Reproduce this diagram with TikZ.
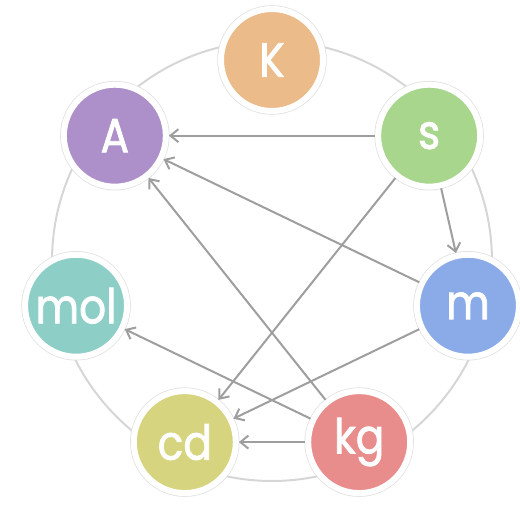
\documentclass[tikz,border=0pt]{standalone}
\usepackage{fontspec}
\setmainfont{Poppins}
\newfontfamily\unitfont[FakeBold=1.6,FakeStretch=0.88]{Poppins}
\usetikzlibrary{positioning,arrows.meta}
\definecolor{colK}{RGB}{235,187,138}
\definecolor{colS}{RGB}{168,214,140}
\definecolor{colM}{RGB}{138,171,232}
\definecolor{colKg}{RGB}{232,140,140}
\definecolor{colCd}{RGB}{214,212,126}
\definecolor{colMol}{RGB}{141,207,199}
\definecolor{colA}{RGB}{173,144,201}
\definecolor{ringgray}{RGB}{214,214,214}
\definecolor{arrowgray}{RGB}{158,158,158}
\tikzset{
    unit/.style={circle,minimum size=102pt,inner sep=0pt,draw=white,line width=6pt,
        preaction={draw=black!12,line width=7.5pt},
        text=white,font=\unitfont\fontsize{48}{52}\selectfont},
    conv/.style={draw=arrowgray,line width=2pt,-{Straight Barb[length=8pt,width=13pt]}}
}
\begin{document}
\begin{tikzpicture}[x=1pt,y=1pt]
    \useasboundingbox (0,-505) rectangle (520,0);
    \begin{scope}[shift={(272,-261)}]
        \draw [draw=ringgray,line width=2pt] (0,0) circle (220);
        \node [unit,fill=colK] (K) at (90:201) {K};
        \node [unit,fill=colS] (s) at (38.57:201) {s};
        \node [unit,fill=colM] (m) at (-12.86:201) {m};
        \node [unit,fill=colKg] (kg) at (-64.29:201) {kg};
        \node [unit,fill=colCd] (cd) at (-115.71:201) {cd};
        \node [unit,fill=colMol] (mol) at (192.86:201) {mol};
        \node [unit,fill=colA] (A) at (141.43:201) {A};
    \end{scope}

    \draw [conv] (s) -- (A);
    \draw [conv] (s) -- (m);
    \draw [conv] (s) -- (cd);
    \draw [conv] (m) -- (A);
    \draw [conv] (m) -- (cd);
    \draw [conv] (kg) -- (A);
    \draw [conv] (kg) -- (mol);
    \draw [conv] (kg) -- (cd);
\end{tikzpicture}
\end{document}
